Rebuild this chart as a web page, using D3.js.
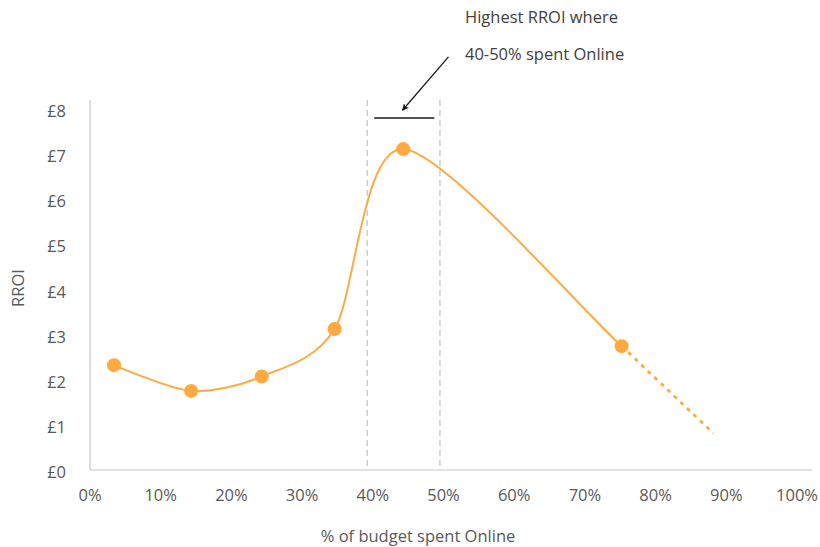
<!DOCTYPE html>
<html>
<head>
<meta charset="utf-8">
<script src="https://cdn.jsdelivr.net/npm/d3@7"></script>
<style>
  html, body { margin: 0; padding: 0; background: #fff; }
  svg text { font-family: "Open Sans", Lato, sans-serif; fill: #595959; }
</style>
</head>
<body>
<svg id="chart" width="820" height="547"></svg>
<script>
// Share of budget spent online (%) and the resulting RROI (£)
const spendPct = [3.4, 14.3, 24.3, 34.6, 44.3, 75.2];
const rroi     = [2.32, 1.75, 2.07, 3.12, 7.10, 2.74];

// Projected continuation beyond the last observation
const projPct  = [88.2];
const projRroi = [0.81];

// Axis ticks
const xTicks = [0, 10, 20, 30, 40, 50, 60, 70, 80, 90, 100];
const yTicks = [0, 1, 2, 3, 4, 5, 6, 7, 8];

// Sweet-spot band and its annotation
const bandPct     = [39.2, 49.5];
const bracketPct  = [40.2, 48.7];
const bracketRroi = 7.79;
const arrowPct    = [50.7, 44.2];
const arrowRroi   = [9.14, 7.96];
const noteLines   = ["Highest RROI where", "40-50% spent Online"];

const svg = d3.select("#chart");
const orange = "#FFAA40";
const axisGrey = "#c8c8c8";
const fontSize = 16.5;

const plot = { left: 90, right: 812, top: 100, bottom: 470 };

const x = d3.scaleLinear().domain([0, 100]).range([90, 797]);
const y = d3.scaleLinear().domain([0, 8]).range([470, 108.4]);

// axis lines
svg.append("line")
  .attr("x1", plot.left).attr("x2", plot.left)
  .attr("y1", plot.top).attr("y2", plot.bottom)
  .attr("stroke", axisGrey).attr("stroke-width", 1.2);
svg.append("line")
  .attr("x1", plot.left).attr("x2", plot.right)
  .attr("y1", plot.bottom).attr("y2", plot.bottom)
  .attr("stroke", axisGrey).attr("stroke-width", 1.2);

// tick labels
svg.append("g").selectAll("text").data(yTicks).join("text")
  .attr("x", 66).attr("y", d => y(d) + 4)
  .attr("text-anchor", "end").attr("dominant-baseline", "middle")
  .attr("font-size", fontSize)
  .text(d => "£" + d);

svg.append("g").selectAll("text").data(xTicks).join("text")
  .attr("x", d => x(d)).attr("y", 497)
  .attr("text-anchor", "middle").attr("dominant-baseline", "middle")
  .attr("font-size", fontSize)
  .text(d => d + "%");

// axis titles
svg.append("text")
  .attr("transform", "translate(20,288) rotate(-90)")
  .attr("text-anchor", "middle").attr("dominant-baseline", "middle")
  .attr("font-size", fontSize)
  .text("RROI");
svg.append("text")
  .attr("x", 418).attr("y", 538)
  .attr("text-anchor", "middle").attr("dominant-baseline", "middle")
  .attr("font-size", fontSize)
  .text("% of budget spent Online");

// sweet-spot band edges
svg.append("g").selectAll("line").data(bandPct).join("line")
  .attr("x1", d => x(d)).attr("x2", d => x(d))
  .attr("y1", plot.top).attr("y2", plot.bottom)
  .attr("stroke", "#b4b4b4").attr("stroke-width", 1)
  .attr("stroke-dasharray", "6,4");

// one smoothed path through observed + projected points;
// observed part solid, projected part dashed
const pts = spendPct.map((p, i) => [x(p), y(rroi[i])]);
const allPts = pts.concat(projPct.map((p, i) => [x(p), y(projRroi[i])]));
const curveD = d3.line().curve(d3.curveCardinal.tension(0.15))(allPts);
const splitX = pts[pts.length - 1][0];

const defs = svg.append("defs");
defs.append("clipPath").attr("id", "clip-observed")
  .append("rect").attr("x", 0).attr("y", 0).attr("width", splitX).attr("height", 547);
defs.append("clipPath").attr("id", "clip-projected")
  .append("rect").attr("x", splitX).attr("y", 0).attr("width", 820 - splitX).attr("height", 547);

svg.append("path")
  .attr("d", curveD).attr("clip-path", "url(#clip-observed)")
  .attr("fill", "none").attr("stroke", orange).attr("stroke-width", 2);
svg.append("path")
  .attr("d", d3.line()(allPts.slice(pts.length - 1)))
  .attr("clip-path", "url(#clip-projected)")
  .attr("fill", "none").attr("stroke", orange).attr("stroke-width", 2.8)
  .attr("stroke-dasharray", "4,5");

// markers
svg.append("g").selectAll("circle").data(pts).join("circle")
  .attr("cx", d => d[0]).attr("cy", d => d[1]).attr("r", 7)
  .attr("fill", orange);

// annotation bracket
svg.append("line")
  .attr("x1", x(bracketPct[0])).attr("x2", x(bracketPct[1]))
  .attr("y1", y(bracketRroi)).attr("y2", y(bracketRroi))
  .attr("stroke", "#1a1a1a").attr("stroke-width", 1.5);

// arrow
defs.append("marker")
  .attr("id", "arrowhead").attr("viewBox", "0 0 10 10")
  .attr("refX", 9).attr("refY", 5)
  .attr("markerWidth", 7).attr("markerHeight", 7)
  .attr("markerUnits", "userSpaceOnUse")
  .attr("orient", "auto")
  .append("path").attr("d", "M0,0 L10,5 L0,10 L2.5,5 Z").attr("fill", "#1a1a1a");
svg.append("line")
  .attr("x1", x(arrowPct[0])).attr("y1", y(arrowRroi[0]))
  .attr("x2", x(arrowPct[1])).attr("y2", y(arrowRroi[1]))
  .attr("stroke", "#1a1a1a").attr("stroke-width", 1.3)
  .attr("marker-end", "url(#arrowhead)");

// annotation text
svg.append("g").selectAll("text").data(noteLines).join("text")
  .attr("x", 465).attr("y", (d, i) => 19 + i * 37)
  .attr("dominant-baseline", "middle")
  .attr("font-size", fontSize)
  .style("fill", "#404040")
  .text(d => d);
</script>
</body>
</html>
